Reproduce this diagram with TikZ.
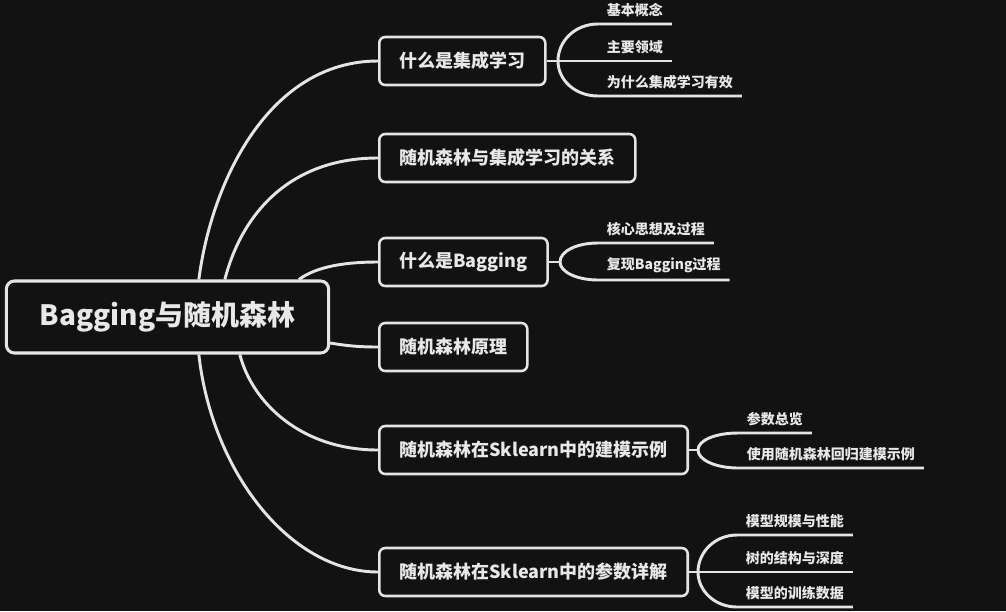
\documentclass[tikz,border=0pt]{standalone}
\usepackage{fontspec}
\setmainfont{Noto Sans CJK SC}
\usetikzlibrary{calc}
\definecolor{bgdark}{HTML}{121212}
\definecolor{linegray}{HTML}{E4E4E4}
\definecolor{textgray}{HTML}{E8E8E8}

\begin{document}
\begin{tikzpicture}[x=0.75pt,y=-0.75pt,
        rootbox/.style={rectangle, rounded corners=6pt, draw=linegray, line width=2.3pt, fill=bgdark, text=textgray,
            font=\bfseries\fontsize{21}{25}\selectfont, inner xsep=25pt, minimum height=54pt},
        topicbox/.style={rectangle, rounded corners=4.5pt, draw=linegray, line width=1.9pt, fill=bgdark, text=textgray,
            font=\bfseries\fontsize{13.5}{16}\selectfont, inner xsep=15pt, minimum height=36pt, anchor=west},
        leaf/.style={text=textgray, font=\bfseries\fontsize{10.5}{12}\selectfont, inner xsep=6.5pt, inner ysep=5pt, anchor=south west},
        branch/.style={draw=linegray, line width=2.2pt}]
    \useasboundingbox (0,0) rectangle (1006,611);
    \fill[bgdark] (0,0) rectangle (1006,611);

    % root and main topics
    \node[rootbox] (root) at (167.5,317) {Bagging与随机森林};
    \foreach \nm/\yy/\txt in {n1/61/什么是集成学习, n2/158/随机森林与集成学习的关系, n3/262/什么是Bagging,
            n4/347/随机森林原理, n5/450/随机森林在Sklearn中的建模示例, n6/572/随机森林在Sklearn中的参数详解}{
        \node[topicbox] (\nm) at (378,\yy) {\txt};
    }

    % sub topics
    \node[leaf] (l11) at (598,24) {基本概念};
    \node[leaf] (l12) at (598,61) {主要领域};
    \node[leaf] (l13) at (598,96) {为什么集成学习有效};
    \node[leaf] (l31) at (598,243) {核心思想及过程};
    \node[leaf] (l32) at (598,280) {复现Bagging过程};
    \node[leaf] (l51) at (738,433) {参数总览};
    \node[leaf] (l52) at (738,468) {使用随机森林回归建模示例};
    \node[leaf] (l61) at (737,535) {模型规模与性能};
    \node[leaf] (l62) at (737,572) {树的结构与深度};
    \node[leaf] (l63) at (737,607) {模型的训练数据};

    \coordinate (j1) at (558,61);
    \coordinate (j3) at (560,262);
    \coordinate (j5) at (698,450);
    \coordinate (j6) at (698,572);

    % root to main topics
    \draw[branch] ($(root.north west)+(194,0)$) .. controls +(13,-100) and +(-108,0) .. (n1.west);
    \draw[branch] ($(root.north west)+(220,0)$) .. controls +(17,-66) and +(-88,0) .. (n2.west);
    \draw[branch] ($(root.north west)+(294,0)$) .. controls +(18,-13) and +(-33,0) .. (n3.west);
    \draw[branch] ($(root.east)+(0,26)$) .. controls +(18,3) and +(-18,0) .. (n4.west);
    \draw[branch] ($(root.south west)+(235,0)$) .. controls +(12,47) and +(-78,0) .. (n5.west);
    \draw[branch] ($(root.south west)+(194,0)$) .. controls +(13,117) and +(-88,0) .. (n6.west);

    % main topics to sub topics
    \draw[branch] (n1.east) -- (l12.south east);
    \draw[branch] (j1) .. controls +(0,-20) and +(-23,0) .. (l11.south west) -- (l11.south east);
    \draw[branch] (j1) .. controls +(0,19) and +(-23,0) .. (l13.south west) -- (l13.south east);

    \draw[branch] (n3.east) -- (j3);
    \draw[branch] (j3) .. controls +(0,-11) and +(-21,0) .. (l31.south west) -- (l31.south east);
    \draw[branch] (j3) .. controls +(0,10) and +(-21,0) .. (l32.south west) -- (l32.south east);

    \draw[branch] (n5.east) -- (j5);
    \draw[branch] (j5) .. controls +(0,-10) and +(-22,0) .. (l51.south west) -- (l51.south east);
    \draw[branch] (j5) .. controls +(0,10) and +(-22,0) .. (l52.south west) -- (l52.south east);

    \draw[branch] (n6.east) -- (l62.south east);
    \draw[branch] (j6) .. controls +(0,-20) and +(-22,0) .. (l61.south west) -- (l61.south east);
    \draw[branch] (j6) .. controls +(0,19) and +(-22,0) .. (l63.south west) -- (l63.south east);
\end{tikzpicture}
\end{document}
